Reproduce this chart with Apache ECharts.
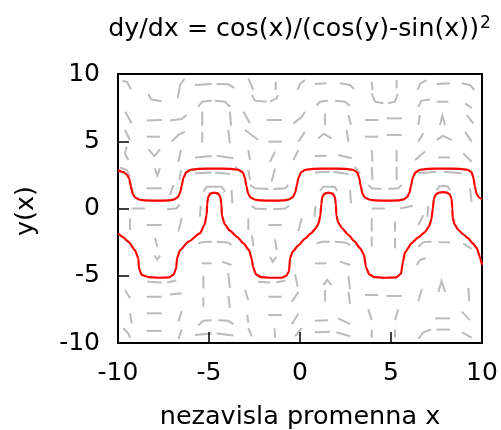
<!DOCTYPE html>
<html>
<head>
<meta charset="UTF-8">
<title>dy/dx</title>
<script src="https://cdn.jsdelivr.net/npm/echarts@6/dist/echarts.min.js"></script>
<style>
  html, body { margin: 0; padding: 0; background: #fff; }
  #main { width: 501px; height: 430px; }
</style>
</head>
<body>
<div id="main"></div>
<script>
// axis ticks
var xTicks = [-10, -5, 0, 5, 10];
var yTicks = [-10, -5, 0, 5, 10];

// red solution, upper band (x, y)
var upperCurve = [
  [-10,2.85],[-9.7,2.7],[-9.5,2.5],[-9.38,2.2],[-9.3,1.7],[-9.2,1.1],[-9.05,0.8],[-8.8,0.65],[-8.5,0.6],
  [-7.8,0.58],[-7.2,0.6],[-6.9,0.68],[-6.7,0.85],[-6.58,1.2],[-6.5,1.7],[-6.4,2.3],[-6.25,2.7],[-6.0,2.88],
  [-5.6,2.95],[-4.7,2.97],[-3.8,2.95],[-3.4,2.88],[-3.15,2.7],[-3.03,2.3],[-2.95,1.7],[-2.85,1.1],[-2.7,0.8],
  [-2.45,0.65],[-2.15,0.6],[-1.5,0.58],[-0.9,0.6],[-0.6,0.68],[-0.38,0.85],[-0.26,1.2],[-0.18,1.7],[-0.08,2.3],
  [0.07,2.7],[0.3,2.88],[0.7,2.95],[1.6,2.97],[2.5,2.95],[2.9,2.88],[3.13,2.7],[3.25,2.3],[3.33,1.7],[3.43,1.1],
  [3.58,0.8],[3.85,0.65],[4.15,0.6],[4.8,0.58],[5.4,0.6],[5.7,0.68],[5.9,0.85],[6.02,1.2],[6.1,1.7],[6.2,2.3],
  [6.35,2.7],[6.6,2.88],[7.0,2.95],[7.9,2.97],[8.8,2.95],[9.2,2.88],[9.42,2.7],[9.53,2.3],[9.6,1.7],[9.7,1.1],
  [9.85,0.8],[10,0.7]
];

// red solution, lower band (x, y)
var lowerCurve = [
  [-10,-1.85],[-9.75,-2.1],[-9.43,-2.47],[-9.07,-3.09],[-8.88,-3.71],[-8.85,-4.45],[-8.7,-4.94],[-8.33,-5.1],
  [-7.8,-5.15],[-7.2,-5.12],[-6.96,-4.94],[-6.8,-4.45],[-6.76,-3.71],[-6.59,-3.09],[-6.13,-2.47],[-5.5,-1.85],
  [-5.25,-1.23],[-5.13,-0.48],[-5.1,0.3],[-5.05,0.85],[-4.93,1.1],[-4.71,1.18],[-4.49,1.1],[-4.37,0.85],
  [-4.32,0.3],[-4.29,-0.5],[-4.15,-1.15],[-3.85,-1.65],[-3.46,-2.1],[-3.1,-2.6],[-2.8,-3.1],[-2.66,-3.7],
  [-2.58,-4.35],[-2.42,-4.9],[-2.15,-5.1],[-1.7,-5.15],[-1.0,-5.15],[-0.75,-5.0],[-0.6,-4.65],[-0.55,-3.7],
  [-0.4,-3.2],[-0.1,-2.75],[0.27,-2.25],[0.6,-1.85],[0.85,-1.5],[1.02,-1.1],[1.12,-0.5],[1.17,0.3],[1.22,0.85],
  [1.35,1.1],[1.57,1.18],[1.79,1.1],[1.92,0.85],[1.97,0.3],[2.0,-0.5],[2.1,-1.05],[2.3,-1.45],[2.65,-1.95],
  [3.0,-2.45],[3.3,-2.95],[3.52,-3.45],[3.62,-4.35],[3.8,-4.9],[4.1,-5.1],[4.6,-5.15],[5.3,-5.12],[5.55,-4.85],
  [5.65,-4.0],[5.77,-3.25],[6.15,-2.55],[6.5,-2.15],[6.87,-1.75],[7.1,-1.3],[7.22,-0.8],[7.3,0.0],[7.35,0.7],
  [7.47,1.05],[7.63,1.18],[7.85,1.22],[8.07,1.18],[8.23,1.05],[8.33,0.7],[8.37,0.0],[8.39,-0.7],[8.5,-1.2],
  [8.7,-1.6],[9.0,-1.95],[9.23,-2.2],[9.5,-2.6],[9.72,-2.95],[9.88,-3.6],[10,-4.2]
];

// grey dashed field pieces, each a short polyline (x, y)
var fieldPieces = [
  [[-9.76,9.5],[-9.5,9.4],[-9.29,8.86]],
  [[-8.33,8.51],[-8.19,8.11],[-7.6,7.98]],
  [[-6.35,9.65],[-6.59,9.18],[-6.72,8.19]],
  [[-5.77,9.18],[-4.85,9.26]],
  [[-4.58,9.26],[-3.94,9.23],[-3.61,8.97]],
  [[-5.59,7.57],[-5.37,7.94],[-4.85,8.02]],
  [[-4.67,8.02],[-4.12,7.94],[-3.85,7.57]],
  [[-9.6,7.2],[-9.25,6.33]],
  [[-8.42,6.55],[-7.6,6.58]],
  [[-7.14,6.55],[-6.5,6.65],[-6.23,6.95]],
  [[-5.37,7.2],[-5.37,6.15]],
  [[-3.85,7.2],[-3.79,6.15]],
  [[-9.62,5.84],[-9.34,5.09]],
  [[-8.42,5.34],[-7.69,5.34]],
  [[-7.05,4.97],[-6.68,5.47],[-6.32,5.71]],
  [[-5.37,5.71],[-5.37,4.9]],
  [[-3.94,5.84],[-3.85,4.84]],
  [[-9.52,4.6],[-9.62,4.1],[-9.43,3.6]],
  [[-8.33,4.4],[-8.0,3.9],[-7.69,4.4]],
  [[-6.54,4.35],[-6.68,3.48]],
  [[-5.77,3.8],[-4.85,3.9]],
  [[-4.58,3.93],[-3.66,3.73]],
  [[-9.89,3.05],[-9.52,2.86],[-9.34,2.37]],
  [[-7.97,2.98],[-7.84,2.45],[-7.69,2.98]],
  [[-6.54,2.86],[-6.63,2.12]],
  [[-5.77,2.62],[-4.85,2.67]],
  [[-4.67,2.67],[-3.85,2.56]],
  [[-9.34,1.87],[-9.16,1.13]],
  [[-8.42,1.5],[-7.6,1.5]],
  [[-6.96,1.75],[-7.14,1.0]],
  [[-5.31,1.25],[-5.13,1.62],[-4.3,1.62],[-4.12,1.25]],
  [[-3.76,1.38],[-3.72,0.38]],

  [[-2.84,9.68],[-2.56,8.81]],
  [[-1.34,9.43],[-1.34,8.81]],
  [[0.27,9.55],[0,9.26],[-0.13,8.81]],
  [[0.82,9.26],[1.46,9.31]],
  [[2.2,9.31],[2.75,9.18],[2.97,8.88]],
  [[-2.65,8.44],[-2.47,8.02],[-1.83,7.94]],
  [[-1.65,7.94],[-1.28,8.19],[-1.22,8.44]],
  [[0.91,7.66],[1.1,7.94],[1.55,8.02]],
  [[1.92,8.02],[2.47,7.94],[2.75,7.62]],
  [[-3.11,7.2],[-2.75,6.33]],
  [[-1.83,6.58],[-1.0,6.58]],
  [[-0.36,6.33],[0.09,6.8],[0.27,7.2]],
  [[1.37,7.07],[1.37,6.21]],
  [[2.66,6.95],[2.8,6.21]],
  [[-3.02,5.84],[-2.29,5.09]],
  [[-1.74,4.97],[-1.0,4.97]],
  [[-0.09,4.97],[0.27,5.71]],
  [[1.0,5.2],[1.3,5.55],[1.74,5.22]],
  [[2.56,5.84],[2.66,4.97]],
  [[-2.84,4.35],[-2.75,3.6]],
  [[-1.65,3.48],[-1.37,4.23]],
  [[-0.36,3.6],[-0.09,4.35]],
  [[0.82,3.9],[1.46,3.93]],
  [[2.1,3.98],[2.84,3.73]],
  [[-3.57,3.11],[-3.11,2.6]],
  [[-2.84,2.86],[-2.75,2.12]],
  [[-1.56,2.0],[-1.37,2.98]],
  [[0.82,2.67],[1.64,2.74]],
  [[1.83,2.74],[2.66,2.56]],
  [[-2.75,1.75],[-2.47,1.5],[-1.74,1.45]],
  [[-1.46,1.45],[-0.82,1.5],[-0.64,1.75]],
  [[1.1,1.3],[1.28,1.62],[1.9,1.62],[2.05,1.3]],
  [[2.75,1.38],[2.8,0.38]],

  [[3.94,9.43],[3.98,8.81]],
  [[5.31,9.55],[5.31,8.93]],
  [[6.96,9.55],[6.59,9.26],[6.46,8.81]],
  [[7.51,9.26],[8.24,9.31]],
  [[8.88,9.31],[9.34,9.18],[9.58,8.81]],
  [[3.94,8.56],[4.12,7.94],[4.58,7.82]],
  [[4.85,7.82],[5.22,7.94],[5.36,8.51]],
  [[6.5,7.57],[6.68,8.02],[7.14,8.11]],
  [[7.51,7.94],[8.15,7.94]],
  [[9.07,7.82],[9.43,7.45]],
  [[3.57,6.58],[4.3,6.58]],
  [[4.76,6.7],[5.59,6.7]],
  [[6.59,6.95],[6.5,6.21]],
  [[7.69,6.21],[7.82,6.9],[7.97,6.21]],
  [[9.16,6.95],[9.52,6.33]],
  [[3.57,5.34],[4.3,5.34]],
  [[4.76,5.47],[5.59,5.47]],
  [[6.5,4.97],[6.78,5.59]],
  [[7.51,5.1],[7.85,5.4],[8.33,5.1]],
  [[9.07,5.71],[9.43,4.97]],
  [[3.94,4.35],[3.98,3.48]],
  [[5.31,4.35],[5.31,3.48]],
  [[6.32,3.6],[6.87,4.23]],
  [[7.6,3.8],[8.24,3.8]],
  [[8.97,4.1],[9.43,3.48]],
  [[3.94,3.11],[3.98,2.12]],
  [[5.31,3.11],[5.31,2.12]],
  [[3.02,3.1],[3.3,2.6]],
  [[6.5,2.62],[7.5,2.74]],
  [[7.9,2.74],[8.88,2.62]],
  [[3.75,1.75],[3.94,1.5],[4.48,1.45]],
  [[4.85,1.45],[5.4,1.5],[5.59,1.75]],
  [[7.51,1.35],[7.65,1.65],[8.1,1.65],[8.25,1.35]],
  [[9.34,1.5],[9.43,0.5]],

  [[-9.25,0.0],[-8.52,0.0]],
  [[-7.3,-0.05],[-6.8,0.0],[-6.6,0.3]],
  [[-9.34,-0.73],[-9.34,-1.6]],
  [[-8.42,-1.23],[-7.6,-1.23]],
  [[-6.68,-1.72],[-6.5,-0.73]],
  [[-5.45,0.2],[-5.5,-0.6]],
  [[-7.97,-2.2],[-7.84,-2.84]],
  [[-5.59,-2.6],[-5.37,-2.5],[-4.85,-2.47]],
  [[-4.58,-2.47],[-3.94,-2.52],[-3.76,-2.71]],
  [[-8.0,-3.5],[-7.84,-3.8],[-7.69,-3.5]],
  [[-5.4,-4.08],[-4.85,-4.08]],
  [[-4.3,-3.95],[-3.76,-4.2]],
  [[-8.4,-5.45],[-7.6,-5.5]],
  [[-7.3,-5.5],[-6.8,-5.35]],
  [[-5.31,-5.0],[-5.31,-5.94]],
  [[-3.94,-4.8],[-3.85,-5.9]],
  [[-9.62,-6.06],[-9.34,-6.68]],
  [[-8.42,-6.56],[-7.6,-6.56]],
  [[-7.14,-6.4],[-6.5,-6.3]],
  [[-5.31,-6.6],[-5.31,-7.3]],
  [[-3.94,-6.5],[-3.85,-7.4]],
  [[-9.34,-7.8],[-9.25,-8.54]],
  [[-8.42,-7.79],[-7.6,-7.79]],
  [[-6.68,-8.4],[-6.5,-7.6]],
  [[-5.59,-8.7],[-5.31,-8.35],[-4.85,-8.3]],
  [[-4.49,-8.3],[-3.94,-8.35],[-3.66,-8.6]],
  [[-9.71,-8.9],[-9.43,-9.3],[-9.34,-9.6]],
  [[-8.42,-9.1],[-7.6,-9.1]],
  [[-6.68,-9.7],[-6.5,-9.0]],
  [[-5.77,-9.4],[-4.85,-9.3]],
  [[-4.58,-9.3],[-3.66,-9.45]],

  [[-2.65,0.2],[-2.47,0.0],[-1.83,-0.05]],
  [[-1.46,-0.05],[-0.82,0.0],[-0.6,0.2]],
  [[-2.84,-0.73],[-2.84,-1.6]],
  [[-1.74,-1.23],[-1.0,-1.23]],
  [[-0.09,-1.7],[0.09,-0.73]],
  [[0.85,0.2],[0.8,-0.6]],
  [[-2.65,-2.0],[-2.56,-2.8]],
  [[-1.37,-2.3],[-1.28,-3.1]],
  [[0.91,-2.59],[1.2,-2.47],[1.64,-2.47]],
  [[1.92,-2.47],[2.47,-2.52],[2.75,-2.71]],
  [[-1.65,-3.6],[-1.5,-3.95],[-1.3,-3.6]],
  [[0.82,-4.08],[1.46,-4.08]],
  [[2.2,-3.95],[2.75,-4.2]],
  [[-2.3,-5.45],[-1.65,-5.5]],
  [[-1.3,-5.5],[-0.8,-5.35]],
  [[-0.27,-4.9],[-0.13,-5.8]],
  [[1.28,-5.69],[1.5,-5.3],[1.74,-5.69]],
  [[2.66,-5.0],[2.75,-6.0]],
  [[-3.02,-6.06],[-2.84,-6.8]],
  [[-1.74,-6.56],[-1.0,-6.56]],
  [[-0.45,-6.93],[-0.09,-6.2]],
  [[1.37,-6.06],[1.37,-6.93]],
  [[2.66,-6.2],[2.75,-7.1]],
  [[-2.9,-7.9],[-2.84,-8.5]],
  [[-1.74,-7.92],[-1.0,-7.92]],
  [[-0.45,-8.6],[-0.09,-7.8]],
  [[0.82,-8.35],[1.55,-8.3]],
  [[2.1,-8.17],[2.75,-8.6]],
  [[-2.84,-8.9],[-2.65,-9.5]],
  [[-1.4,-8.9],[-1.37,-9.6]],
  [[-0.27,-9.5],[0.09,-8.9]],
  [[0.82,-9.2],[1.64,-9.16]],
  [[2.0,-9.2],[2.75,-9.5]],

  [[3.94,0.0],[4.67,0.0]],
  [[5.5,0.0],[6.2,0.2]],
  [[3.94,-0.73],[3.94,-1.72]],
  [[5.22,-0.98],[5.22,-1.72]],
  [[6.5,-1.23],[6.78,-0.5]],
  [[7.05,0.2],[7.0,-0.6]],
  [[3.94,-2.09],[3.94,-2.84]],
  [[5.22,-2.2],[5.22,-2.96]],
  [[6.5,-2.84],[6.78,-2.5],[7.23,-2.47]],
  [[7.6,-2.5],[8.24,-2.52]],
  [[8.97,-2.6],[9.43,-3.0]],
  [[6.41,-4.2],[6.59,-3.83],[6.9,-3.7]],
  [[7.6,-6.2],[7.78,-5.4],[7.97,-6.2]],
  [[3.57,-6.43],[4.3,-6.43]],
  [[4.76,-6.5],[5.59,-6.5]],
  [[6.5,-6.9],[6.7,-6.0]],
  [[9.25,-5.9],[9.3,-6.9]],
  [[3.75,-7.5],[3.94,-8.3]],
  [[5.22,-8.3],[5.4,-7.5]],
  [[7.42,-8.17],[8.24,-8.17]],
  [[8.88,-7.67],[9.34,-8.3]],
  [[3.94,-9.0],[3.94,-9.6]],
  [[5.22,-9.0],[5.22,-9.6]],
  [[6.5,-9.7],[6.78,-9.2],[7.2,-9.0]],
  [[7.5,-9.0],[8.24,-9.0]],
  [[8.88,-9.2],[9.43,-9.6]]
];

var chart = echarts.init(document.getElementById('main'), null, { renderer: 'canvas' });

var font = 'DejaVu Sans';

var option = {
  animation: false,
  backgroundColor: '#fff',
  grid: {
    left: 118, right: 19, top: 74, bottom: 87,
    show: true, borderColor: '#000', borderWidth: 2, backgroundColor: 'transparent'
  },
  xAxis: {
    type: 'value', min: xTicks[0], max: xTicks[xTicks.length - 1], interval: 5,
    axisLine: { show: false, onZero: false },
    axisTick: { inside: true, length: 11, lineStyle: { color: '#000', width: 1.5 } },
    axisLabel: { color: '#000', fontSize: 25, fontFamily: font, margin: 18 },
    splitLine: { show: false },
    z: 5
  },
  yAxis: {
    type: 'value', min: yTicks[0], max: yTicks[yTicks.length - 1], interval: 5,
    axisLine: { show: false, onZero: false },
    axisTick: { inside: true, length: 11, lineStyle: { color: '#000', width: 1.5 } },
    axisLabel: { color: '#000', fontSize: 25, fontFamily: font, margin: 18 },
    splitLine: { show: false },
    z: 5
  },
  graphic: [
    { type: 'text', x: 479, y: 29,
      style: { text: 'dy/dx = cos(x)/(cos(y)-sin(x))', fill: '#000', font: '25.3px "DejaVu Sans"',
               textAlign: 'right', textVerticalAlign: 'middle' } },
    { type: 'text', x: 480, y: 24,
      style: { text: '2', fill: '#000', font: '17px "DejaVu Sans"',
               textAlign: 'left', textVerticalAlign: 'middle' } },
    { type: 'text', x: 300, y: 417,
      style: { text: 'nezavisla promenna x', fill: '#000', font: '25.5px "DejaVu Sans"',
               textAlign: 'center', textVerticalAlign: 'middle' } },
    { type: 'text', x: 26, y: 211, rotation: Math.PI / 2,
      style: { text: 'y(x)', fill: '#000', font: '25.5px "DejaVu Sans"',
               textAlign: 'center', textVerticalAlign: 'middle' } }
  ],
  series: [
    {
      type: 'lines',
      coordinateSystem: 'cartesian2d',
      polyline: true,
      silent: true,
      lineStyle: { color: '#bbbbbb', width: 2, opacity: 1 },
      data: fieldPieces.map(function (p) { return { coords: p }; }),
      z: 1
    },
    {
      type: 'line', data: upperCurve, showSymbol: false, smooth: 0.2, smoothMonotone: 'x',
      lineStyle: { color: '#ff0000', width: 2.2 }, z: 3
    },
    {
      type: 'line', data: lowerCurve, showSymbol: false, smooth: 0.2, smoothMonotone: 'x',
      lineStyle: { color: '#ff0000', width: 2.2 }, z: 3
    }
  ]
};

chart.setOption(option);
</script>
</body>
</html>
